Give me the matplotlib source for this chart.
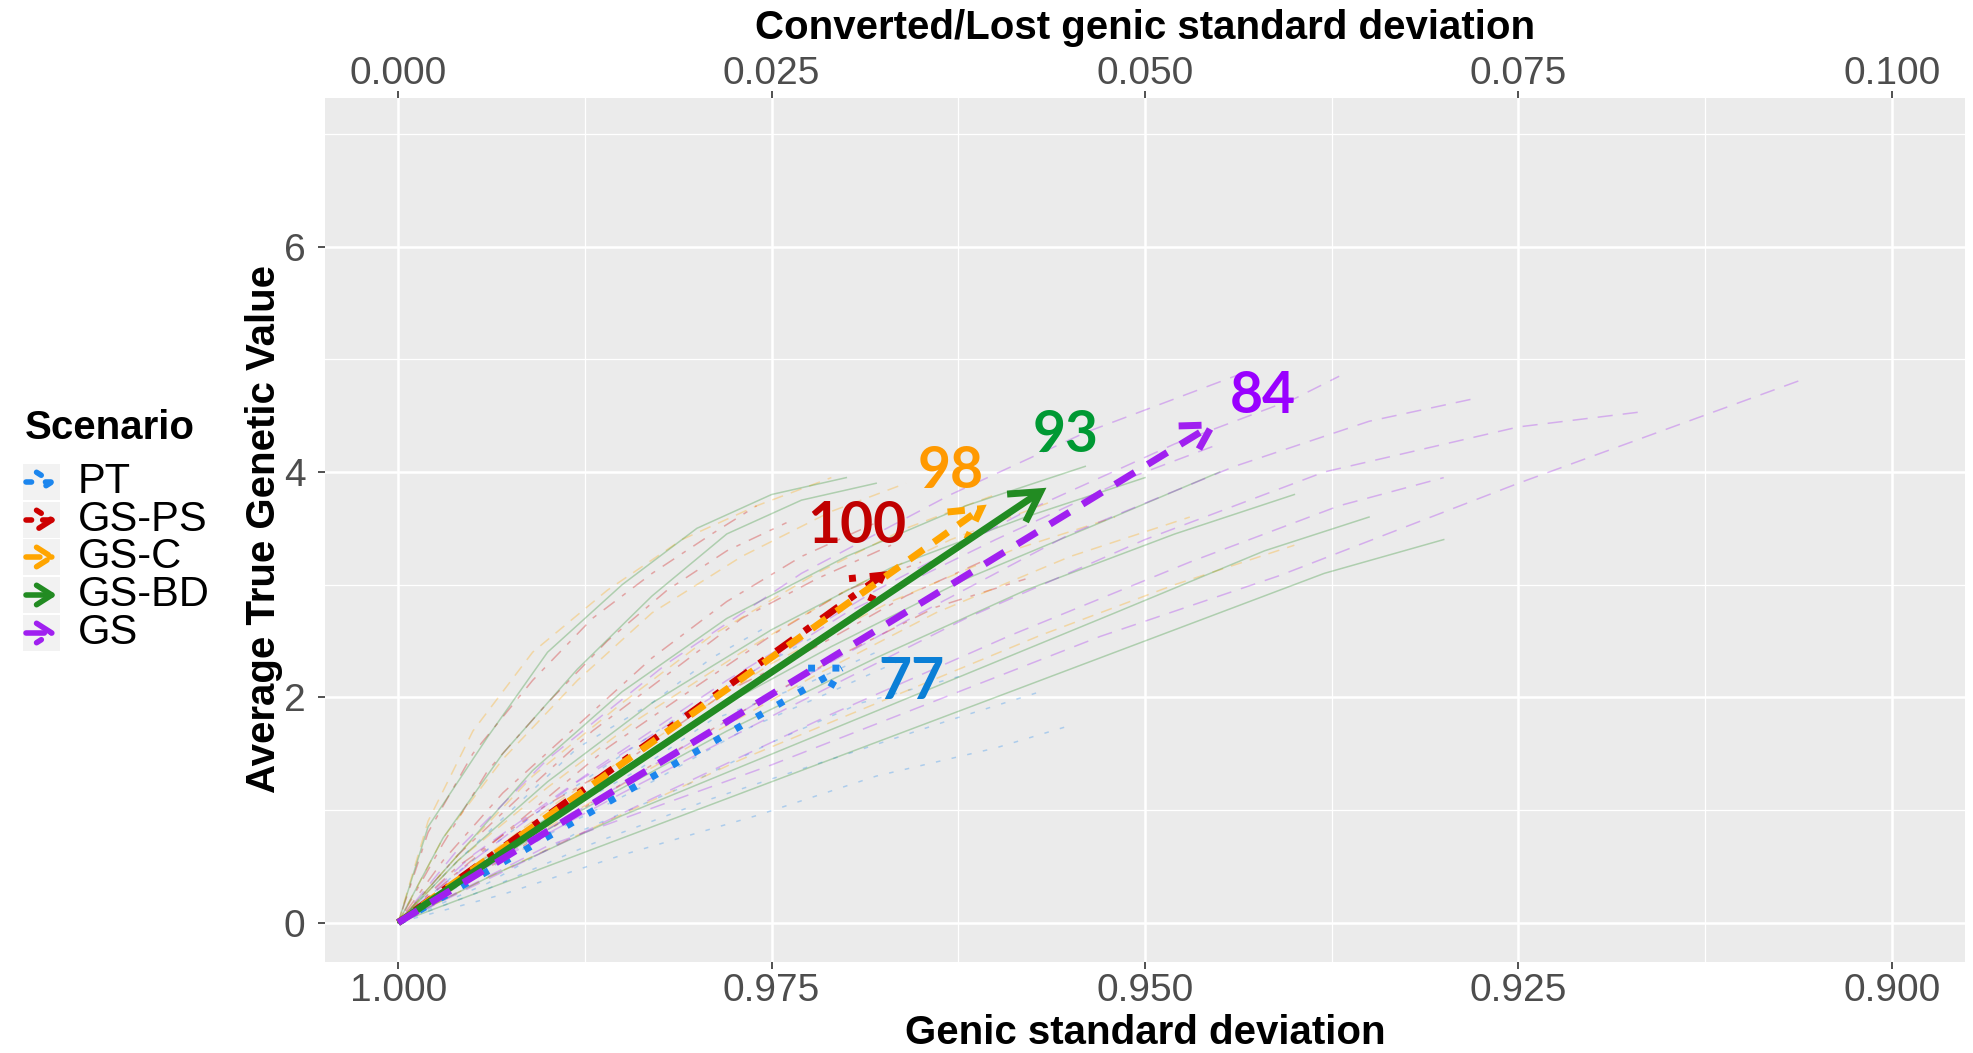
import matplotlib
matplotlib.use('Agg')
import matplotlib.pyplot as plt
from matplotlib.patches import FancyArrowPatch, Rectangle
from matplotlib.ticker import FixedLocator

# ---- values ----
scenarios = ['PT', 'GS-PS', 'GS-C', 'GS-BD', 'GS']
mean_end_sd = [0.9699, 0.9672, 0.9606, 0.9566, 0.9451]
mean_end_tgv = [2.29, 3.12, 3.71, 3.86, 4.45]
pct_text = ['77', '100', '98', '93', '84']
pct_sd = [0.9656, 0.9693, 0.9630, 0.9553, 0.9421]
pct_tgv = [2.13, 3.52, 4.00, 4.32, 4.67]

bottom_ticks = [1.000, 0.975, 0.950, 0.925, 0.900]
top_ticks = [0.000, 0.025, 0.050, 0.075, 0.100]
y_ticks = [0, 2, 4, 6]

# single replicate runs (faint lines), rough estimates
pt_sd = [[1, .996, .991, .986, .981, .976, .972],
         [1, .995, .989, .983, .977, .971, .966],
         [1, .994, .987, .979, .971, .963, .957],
         [1, .996, .992, .988, .983, .979, .975],
         [1, .993, .985, .976, .968, .960, .955],
         [1, .995, .990, .984, .979, .973, .968],
         [1, .994, .988, .981, .975, .969, .962]]
pt_tgv = [[0, .45, .95, 1.40, 1.85, 2.25, 2.55],
          [0, .40, .85, 1.25, 1.70, 2.05, 2.35],
          [0, .30, .70, 1.10, 1.45, 1.80, 2.05],
          [0, .55, 1.05, 1.55, 1.95, 2.35, 2.65],
          [0, .25, .60, .95, 1.30, 1.55, 1.75],
          [0, .50, .90, 1.35, 1.80, 2.10, 2.40],
          [0, .35, .80, 1.20, 1.60, 1.95, 2.20]]
ps_sd = [[1, .997, .993, .988, .983, .978, .973, .968],
         [1, .996, .991, .986, .980, .975, .970, .965],
         [1, .997, .994, .990, .986, .982, .978, .974],
         [1, .995, .989, .983, .976, .970, .964, .958],
         [1, .996, .992, .987, .982, .977, .972, .967],
         [1, .996, .990, .984, .978, .972, .966, .961],
         [1, .998, .995, .991, .987, .983, .979, .976]]
ps_tgv = [[0, .55, 1.15, 1.75, 2.35, 2.85, 3.25, 3.55],
          [0, .45, 1.00, 1.55, 2.10, 2.55, 2.95, 3.20],
          [0, .70, 1.35, 1.95, 2.50, 2.95, 3.30, 3.55],
          [0, .40, .90, 1.40, 1.95, 2.40, 2.80, 3.05],
          [0, .60, 1.10, 1.70, 2.20, 2.70, 3.05, 3.35],
          [0, .50, 1.05, 1.50, 2.05, 2.45, 2.90, 3.20],
          [0, .80, 1.50, 2.15, 2.70, 3.10, 3.45, 3.70]]
c_sd = [[1, .997, .993, .988, .983, .977, .971, .966],
        [1, .996, .990, .984, .977, .970, .963, .956],
        [1, .995, .988, .980, .972, .964, .955, .947],
        [1, .998, .995, .991, .986, .981, .976, .971],
        [1, .994, .986, .977, .967, .957, .948, .940],
        [1, .996, .991, .985, .979, .972, .966, .960],
        [1, .995, .989, .982, .975, .967, .959, .952]]
c_tgv = [[0, .75, 1.45, 2.15, 2.75, 3.25, 3.65, 3.90],
         [0, .55, 1.20, 1.80, 2.40, 2.95, 3.40, 3.75],
         [0, .45, 1.00, 1.60, 2.20, 2.75, 3.25, 3.60],
         [0, .90, 1.70, 2.40, 2.95, 3.40, 3.70, 3.95],
         [0, .40, .90, 1.45, 2.00, 2.55, 3.00, 3.35],
         [0, .60, 1.30, 1.95, 2.55, 3.10, 3.50, 3.80],
         [0, .50, 1.10, 1.70, 2.30, 2.85, 3.30, 3.60]]
bd_sd = [[1, .997, .993, .988, .983, .978, .973, .968],
         [1, .996, .990, .983, .975, .967, .958, .950],
         [1, .995, .987, .978, .968, .958, .948, .940],
         [1, .994, .985, .974, .963, .952, .942, .935],
         [1, .996, .991, .985, .978, .970, .962, .954],
         [1, .998, .994, .990, .985, .980, .975, .970],
         [1, .995, .988, .980, .971, .962, .953, .945],
         [1, .993, .983, .972, .960, .948, .938, .930]]
bd_tgv = [[0, .75, 1.50, 2.25, 2.90, 3.45, 3.75, 3.90],
          [0, .55, 1.25, 1.95, 2.60, 3.15, 3.60, 3.95],
          [0, .45, 1.05, 1.70, 2.35, 2.95, 3.45, 3.80],
          [0, .40, .95, 1.55, 2.15, 2.75, 3.30, 3.60],
          [0, .60, 1.35, 2.05, 2.70, 3.25, 3.70, 4.05],
          [0, .85, 1.65, 2.40, 3.00, 3.50, 3.80, 3.95],
          [0, .50, 1.10, 1.80, 2.45, 3.05, 3.55, 4.00],
          [0, .35, .85, 1.40, 2.00, 2.60, 3.10, 3.40]]
gs_sd = [[1, .990, .975, .953, .941, .925, .906],
         [1, .994, .985, .974, .962, .950, .938, .925, .917],
         [1, .995, .987, .978, .968, .958, .948, .940, .937],
         [1, .993, .983, .971, .959, .947, .937, .930],
         [1, .996, .990, .982, .973, .963, .954, .946, .943],
         [1, .995, .988, .979, .970, .960, .951, .945],
         [1, .994, .986, .976, .965, .955, .944, .935, .928]]
gs_tgv = [[0, .68, 1.40, 2.54, 3.08, 3.90, 4.82],
          [0, .50, 1.15, 1.90, 2.70, 3.40, 4.00, 4.40, 4.53],
          [0, .60, 1.35, 2.15, 2.95, 3.65, 4.25, 4.65, 4.85],
          [0, .45, 1.10, 1.85, 2.55, 3.20, 3.70, 3.95],
          [0, .65, 1.45, 2.30, 3.10, 3.80, 4.35, 4.75, 4.90],
          [0, .55, 1.25, 2.00, 2.75, 3.40, 3.95, 4.25],
          [0, .50, 1.15, 1.95, 2.75, 3.45, 4.05, 4.45, 4.65]]
rep_sd = [pt_sd, ps_sd, c_sd, bd_sd, gs_sd]
rep_tgv = [pt_tgv, ps_tgv, c_tgv, bd_tgv, gs_tgv]

# ---- styles ----
line_cols = ['#1C86EE', '#CD0000', '#FFA500', '#228B22', '#A020F0']
text_cols = ['#0A7FD6', '#C00000', '#FF9900', '#009933', '#9900FF']
dash_pat = [(1, 2.5), (1, 2, 3, 2), (2.5, 1.8), None, (3.3, 2.2)]
plain = ['Liberation Sans', 'DejaVu Sans']

W, H = 1973, 1053
fig = plt.figure(figsize=(W / 100, H / 100), dpi=100)
ax = fig.add_axes([325 / W, 1 - 962 / H, 1640 / W, 864 / H])
ax.set_facecolor('#EBEBEB')
for s in ax.spines.values():
    s.set_visible(False)

ax.set_xlim(1.0049, 0.8951)
ax.set_ylim(-0.35, 7.32)
ax.xaxis.set_major_locator(FixedLocator(bottom_ticks))
ax.xaxis.set_minor_locator(FixedLocator([0.9875, 0.9625, 0.9375, 0.9125]))
ax.yaxis.set_major_locator(FixedLocator(y_ticks))
ax.yaxis.set_minor_locator(FixedLocator([1, 3, 5, 7]))
ax.xaxis.set_major_formatter(lambda v, p: f'{v:.3f}')
ax.grid(which='major', color='white', lw=1.8)
ax.grid(which='minor', color='white', lw=0.9)
ax.set_axisbelow(True)
ax.tick_params(which='minor', length=0)
ax.tick_params(which='major', length=5, width=1.2, color='#333333',
               labelsize=28, labelcolor='#4D4D4D', labelfontfamily=plain)
ax.tick_params(axis='x', pad=3)
ax.tick_params(axis='y', pad=9)

top = ax.secondary_xaxis('top', functions=(lambda v: 1 - v, lambda v: 1 - v))
top.xaxis.set_major_locator(FixedLocator(top_ticks))
top.xaxis.set_major_formatter(lambda v, p: f'{abs(v):.3f}')
top.spines['top'].set_visible(False)
top.tick_params(length=5, width=1.2, color='#333333', labelsize=28,
                labelcolor='#4D4D4D', labelfontfamily=plain, pad=-1)

# faint replicate runs
for i in range(len(scenarios)):
    for xs, ys in zip(rep_sd[i], rep_tgv[i]):
        ln, = ax.plot(xs, ys, color=line_cols[i], lw=1.1, alpha=0.3)
        if dash_pat[i]:
            ln.set_dashes([d * 3 for d in dash_pat[i]])

# scenario mean arrows and % labels
for i in range(len(scenarios)):
    ls = (0, dash_pat[i]) if dash_pat[i] else '-'
    ax.annotate('', xy=(mean_end_sd[i], mean_end_tgv[i]), xytext=(1.0, 0.0),
                arrowprops=dict(arrowstyle='->,head_length=2.1,head_width=1.2',
                                mutation_scale=10, color=line_cols[i], lw=5,
                                linestyle=ls, shrinkA=0, shrinkB=0,
                                capstyle='butt', joinstyle='miter'))
    ax.text(pct_sd[i], pct_tgv[i], pct_text[i], color=text_cols[i],
            fontsize=41, fontweight='bold', family=['Lato', 'DejaVu Sans'],
            ha='center', va='center')

# axis titles
fig.text(1145 / W, 1 - 1033 / H, 'Genic standard deviation', ha='center',
         va='center', fontsize=29, fontweight='bold', family=plain)
fig.text(1145 / W, 1 - 28 / H, 'Converted/Lost genic standard deviation',
         ha='center', va='center', fontsize=29, fontweight='bold', family=plain)
fig.text(264 / W, 1 - 529 / H, 'Average True Genetic Value', rotation=90,
         ha='center', va='center', fontsize=29, fontweight='bold', family=plain)

# legend, drawn by hand to the left of the y title
fig.text(25 / W, 1 - 428 / H, 'Scenario', ha='left', va='center',
         fontsize=29, fontweight='bold', family=plain)
row_y = [482, 520, 557, 595, 633]
for i, name in enumerate(scenarios):
    yf = 1 - row_y[i] / H
    fig.add_artist(Rectangle((23 / W, yf - 18 / H), 37 / W, 36 / H,
                             transform=fig.transFigure, color='#F2F2F2', lw=0))
    ls = (0, dash_pat[i]) if dash_pat[i] else '-'
    fig.add_artist(FancyArrowPatch((26 / W, yf), (57 / W, yf),
                                   transform=fig.transFigure,
                                   arrowstyle='->,head_length=1.1,head_width=0.7',
                                   mutation_scale=10, color=line_cols[i], lw=4,
                                   linestyle=ls, shrinkA=0, shrinkB=0))
    fig.text(78 / W, yf, name, ha='left', va='center', fontsize=30, family=plain)

fig.savefig('out.png', dpi=100)
